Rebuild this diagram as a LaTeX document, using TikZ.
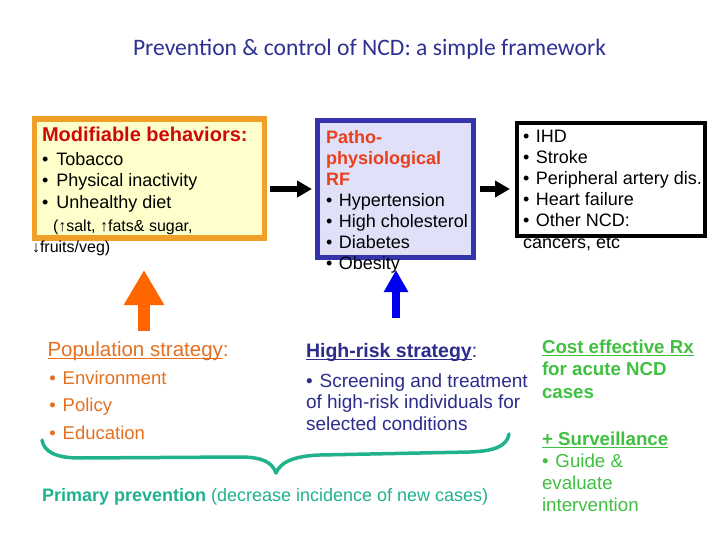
\documentclass[tikz,border=0pt]{standalone}
\usepackage{fontspec}
\setmainfont{Liberation Sans}
\newfontfamily\titlefont{Carlito}
\usetikzlibrary{arrows.meta,calc}
\definecolor{titleblue}{RGB}{46,49,146}
\definecolor{modred}{RGB}{204,10,10}
\definecolor{pathred}{RGB}{232,64,28}
\definecolor{popor}{RGB}{228,112,32}
\definecolor{hrnavy}{RGB}{44,44,140}
\definecolor{grn}{RGB}{64,192,64}
\definecolor{brteal}{RGB}{32,178,140}
\definecolor{obord}{RGB}{240,160,40}
\definecolor{ofill}{RGB}{255,255,204}
\definecolor{bbord}{RGB}{52,52,172}
\definecolor{bfill}{RGB}{224,224,248}
\definecolor{arrowor}{RGB}{255,102,0}
\definecolor{arrowbl}{RGB}{0,0,240}
\newlength\ulwd
\newcommand\myul[1]{\settowidth\ulwd{#1}\rlap{\rule[-3.2pt]{\ulwd}{1.5pt}}#1}
\newcommand\bul{•\hspace{0.37em}}
\begin{document}
\begin{tikzpicture}[x=1pt,y=-1pt,
  txt/.style={anchor=base west, inner sep=0pt, outer sep=0pt, align=left},
  boxnode/.style={inner sep=0pt, minimum width=#1},
  blockarr/.style={-{Triangle[length=15pt,width=16pt]}, line width=5.5pt},
]
\fill[white] (0,0) rectangle (720,540);
\useasboundingbox (0,0) rectangle (720,540);

% title
\node[anchor=base, inner sep=0pt, font=\titlefont\fontsize{23.6}{28}\selectfont, text=titleblue] (title) at (369.5,56) {Prevention \& control of NCD: a simple framework};

% boxes
\node[boxnode=230pt, draw=obord, fill=ofill, line width=5.5pt, minimum height=119pt] (obox) at (149.5,178.5) {};
\node[boxnode=156pt, draw=bbord, fill=bfill, line width=5pt, minimum height=137pt] (bbox) at (395.5,189) {};
\node[boxnode=188pt, draw=black, fill=white, line width=4pt, minimum height=112.5pt] (kbox) at (611,179.25) {};

% orange box text (multi-line nodes: base = last line)
\node[txt, font=\bfseries\fontsize{20}{24}\selectfont, text=modred] (ohead) at (42,142) {Modifiable behaviors:};
\node[txt, font=\fontsize{18}{21.5}\selectfont] (olist) at (42,208) {•\hspace{0.45em}Tobacco\\•\hspace{0.45em}Physical inactivity\\•\hspace{0.45em}Unhealthy diet};
\node[txt, font=\fontsize{16}{21}\selectfont] (odiet) at (32,252) {\hspace*{21pt}(↑salt, ↑fats\& sugar,\\↓fruits/veg)};

% blue box text
\node[txt, font=\fontsize{18}{21.1}\selectfont] (btext) at (326,269.6) {\textcolor{pathred}{\bfseries Patho-}\\\textcolor{pathred}{\bfseries physiological}\\\textcolor{pathred}{\bfseries RF}\\\bul Hypertension\\\bul High cholesterol\\\bul Diabetes\\\bul Obesity};

% black box text
\node[txt, font=\fontsize{18}{21.2}\selectfont] (ktext) at (523,248) {\bul IHD\\\bul Stroke\\\bul Peripheral artery dis.\\\bul Heart failure\\\bul Other NCD:\\cancers, etc};

% horizontal arrows
\draw[blockarr] ($(obox.east |- bbox.center)+(3,0)$) -- ($(bbox.west)+(-3,0)$);
\draw[blockarr] ($(bbox.east)+(4,0)$) -- ($(kbox.west |- bbox.center)+(-5,0)$);

% vertical arrows
\coordinate (orbase) at (144,331);
\coordinate (ortip) at (144,270);
\coordinate (blbase) at (396,318);
\coordinate (bltip) at (396,270);
\draw[arrowor, line width=12pt, -{Triangle[length=35pt,width=38pt]}] (orbase) -- (ortip);
\draw[arrowbl, line width=8pt, -{Triangle[length=22pt,width=23pt]}] (blbase) -- (bltip);

% population strategy
\node[txt, font=\fontsize{20.5}{24}\selectfont, text=popor] (pophead) at (47.5,356) {\myul{Population strategy}:};
\node[txt, font=\fontsize{18.5}{27.6}\selectfont, text=popor] (poplist) at (49.4,439.2) {\bul Environment\\\bul Policy\\\bul Education};

% high-risk strategy
\node[txt, font=\fontsize{19.5}{24}\selectfont, text=hrnavy] (hrhead) at (306,357) {{\bfseries\myul{High-risk strategy}}:};
\node[txt, font=\fontsize{19}{21.5}\selectfont, text=hrnavy] (hrlist) at (306,430) {\bul Screening and treatment\\of high-risk individuals for\\selected conditions};

% green text
\node[txt, font=\bfseries\fontsize{18.7}{22.5}\selectfont, text=grn] (gtop) at (542,398) {\myul{Cost effective Rx}\\for acute NCD\\cases};
\node[txt, font=\fontsize{18.7}{22.3}\selectfont, text=grn] (gbot) at (542,511.9) {{\bfseries\myul{+ Surveillance}}\\\bul Guide \&\\evaluate\\intervention};

% brace
\draw[brteal, line width=3.5pt, line cap=round, line join=round]
  (42,440) .. controls (44,452) and (56,458) .. (80,458)
  -- (240,457) .. controls (262,457) and (272,462) .. (276,473)
  .. controls (280,463) and (292,456) .. (320,455)
  -- (470,452) .. controls (495,451) and (507,446) .. (509,434);

\node[txt, font=\fontsize{18}{22}\selectfont, text=brteal] (prim) at (42,501) {{\bfseries Primary prevention} (decrease incidence of new cases)};
\end{tikzpicture}
\end{document}
